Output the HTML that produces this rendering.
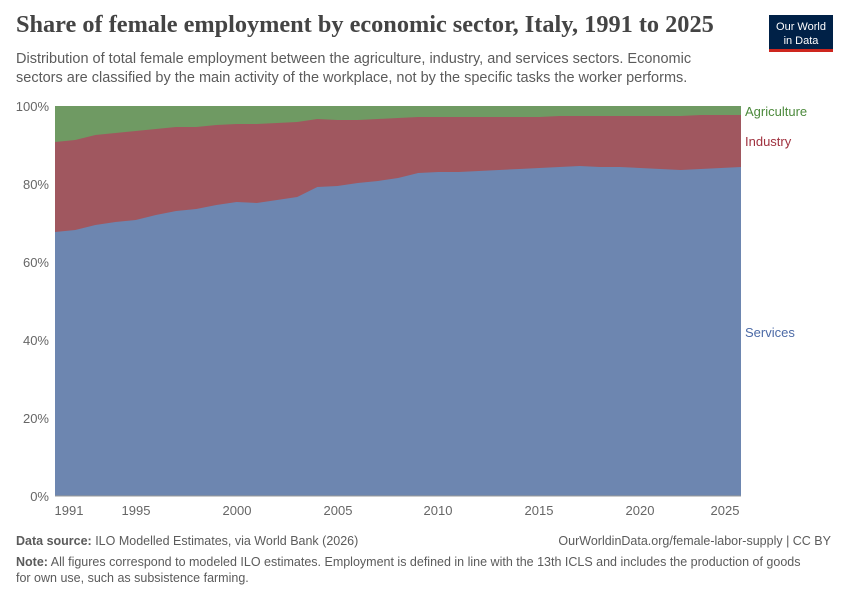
<!DOCTYPE html>
<html><head><meta charset="utf-8"><style>
body{margin:0;background:#fff;width:850px;height:600px;overflow:hidden;font-family:"Liberation Sans",sans-serif;}
</style></head><body>
<svg width="850" height="600" xmlns="http://www.w3.org/2000/svg" font-family="Liberation Sans, sans-serif">
<text x="16" y="32" font-family="Liberation Serif, serif" font-size="24.3" fill="#444" font-weight="bold">Share of female employment by economic sector, Italy, 1991 to 2025</text>
<text x="16" y="63" font-size="14.5" fill="#5b5b5b">Distribution of total female employment between the agriculture, industry, and services sectors. Economic</text>
<text x="16" y="82" font-size="14.5" fill="#5b5b5b">sectors are classified by the main activity of the workplace, not by the specific tasks the worker performs.</text>
<rect x="769" y="15" width="64" height="35" fill="#002147"/>
<rect x="769" y="49" width="64" height="3" fill="#ce261e"/>
<text x="801" y="30" font-size="11" fill="#fff" text-anchor="middle">Our World</text>
<text x="801" y="44" font-size="11" fill="#fff" text-anchor="middle">in Data</text>
<g font-size="13" fill="#666" text-anchor="end">
<text x="49" y="111">100%</text><text x="49" y="189">80%</text><text x="49" y="267">60%</text><text x="49" y="345">40%</text><text x="49" y="423">20%</text><text x="49" y="501">0%</text>
</g>
<rect x="55" y="106" width="686" height="390" fill="#6f9a63"/>
<polygon fill="#a0575f" points="55,496 55,142 75.2,140 95.4,135 115.5,133 135.7,131 155.9,129 176.1,127 196.3,127 216.4,125 236.6,124 256.8,124 277,123 297.2,122 317.3,119 337.5,120 357.7,120 377.9,119 398.1,118 418.2,117 438.4,117 458.6,117 478.8,117 499,117 519.1,117 539.3,117 559.5,116 579.7,116 599.9,116 620,116 640.2,116 660.4,116 680.6,116 700.8,115 720.9,115 741,115 741,496"/>
<polygon fill="#6d86b0" points="55,496 55,232 75.2,230 95.4,225 115.5,222 135.7,220 155.9,215 176.1,211 196.3,209 216.4,205 236.6,202 256.8,203 277,200 297.2,197 317.3,187 337.5,186 357.7,183 377.9,181 398.1,178 418.2,173 438.4,172 458.6,172 478.8,171 499,170 519.1,169 539.3,168 559.5,167 579.7,166 599.9,167 620,167 640.2,168 660.4,169 680.6,170 700.8,169 720.9,168 741,167 741,496"/>
<line x1="55" x2="741" y1="496" y2="496" stroke="#999"/>
<g font-size="13" fill="#666" text-anchor="middle">
<text x="69" y="515">1991</text><text x="136" y="515">1995</text><text x="237" y="515">2000</text><text x="338" y="515">2005</text><text x="438" y="515">2010</text><text x="539" y="515">2015</text><text x="640" y="515">2020</text><text x="725" y="515">2025</text>
</g>
<g font-size="13"><text x="745" y="116" fill="#4c8a3c">Agriculture</text><text x="745" y="146" fill="#a0323f">Industry</text><text x="745" y="337" fill="#4c6aa6">Services</text></g>
<text x="16" y="545" font-size="12.5" fill="#5b5b5b"><tspan font-weight="bold">Data source:</tspan> ILO Modelled Estimates, via World Bank (2026)</text>
<text x="831" y="545" font-size="12.5" fill="#5b5b5b" text-anchor="end">OurWorldinData.org/female-labor-supply | CC BY</text>
<text x="16" y="566" font-size="12.5" fill="#5b5b5b"><tspan font-weight="bold">Note:</tspan> All figures correspond to modeled ILO estimates. Employment is defined in line with the 13th ICLS and includes the production of goods</text>
<text x="16" y="582" font-size="12.5" fill="#5b5b5b">for own use, such as subsistence farming.</text>
</svg>
</body></html>
